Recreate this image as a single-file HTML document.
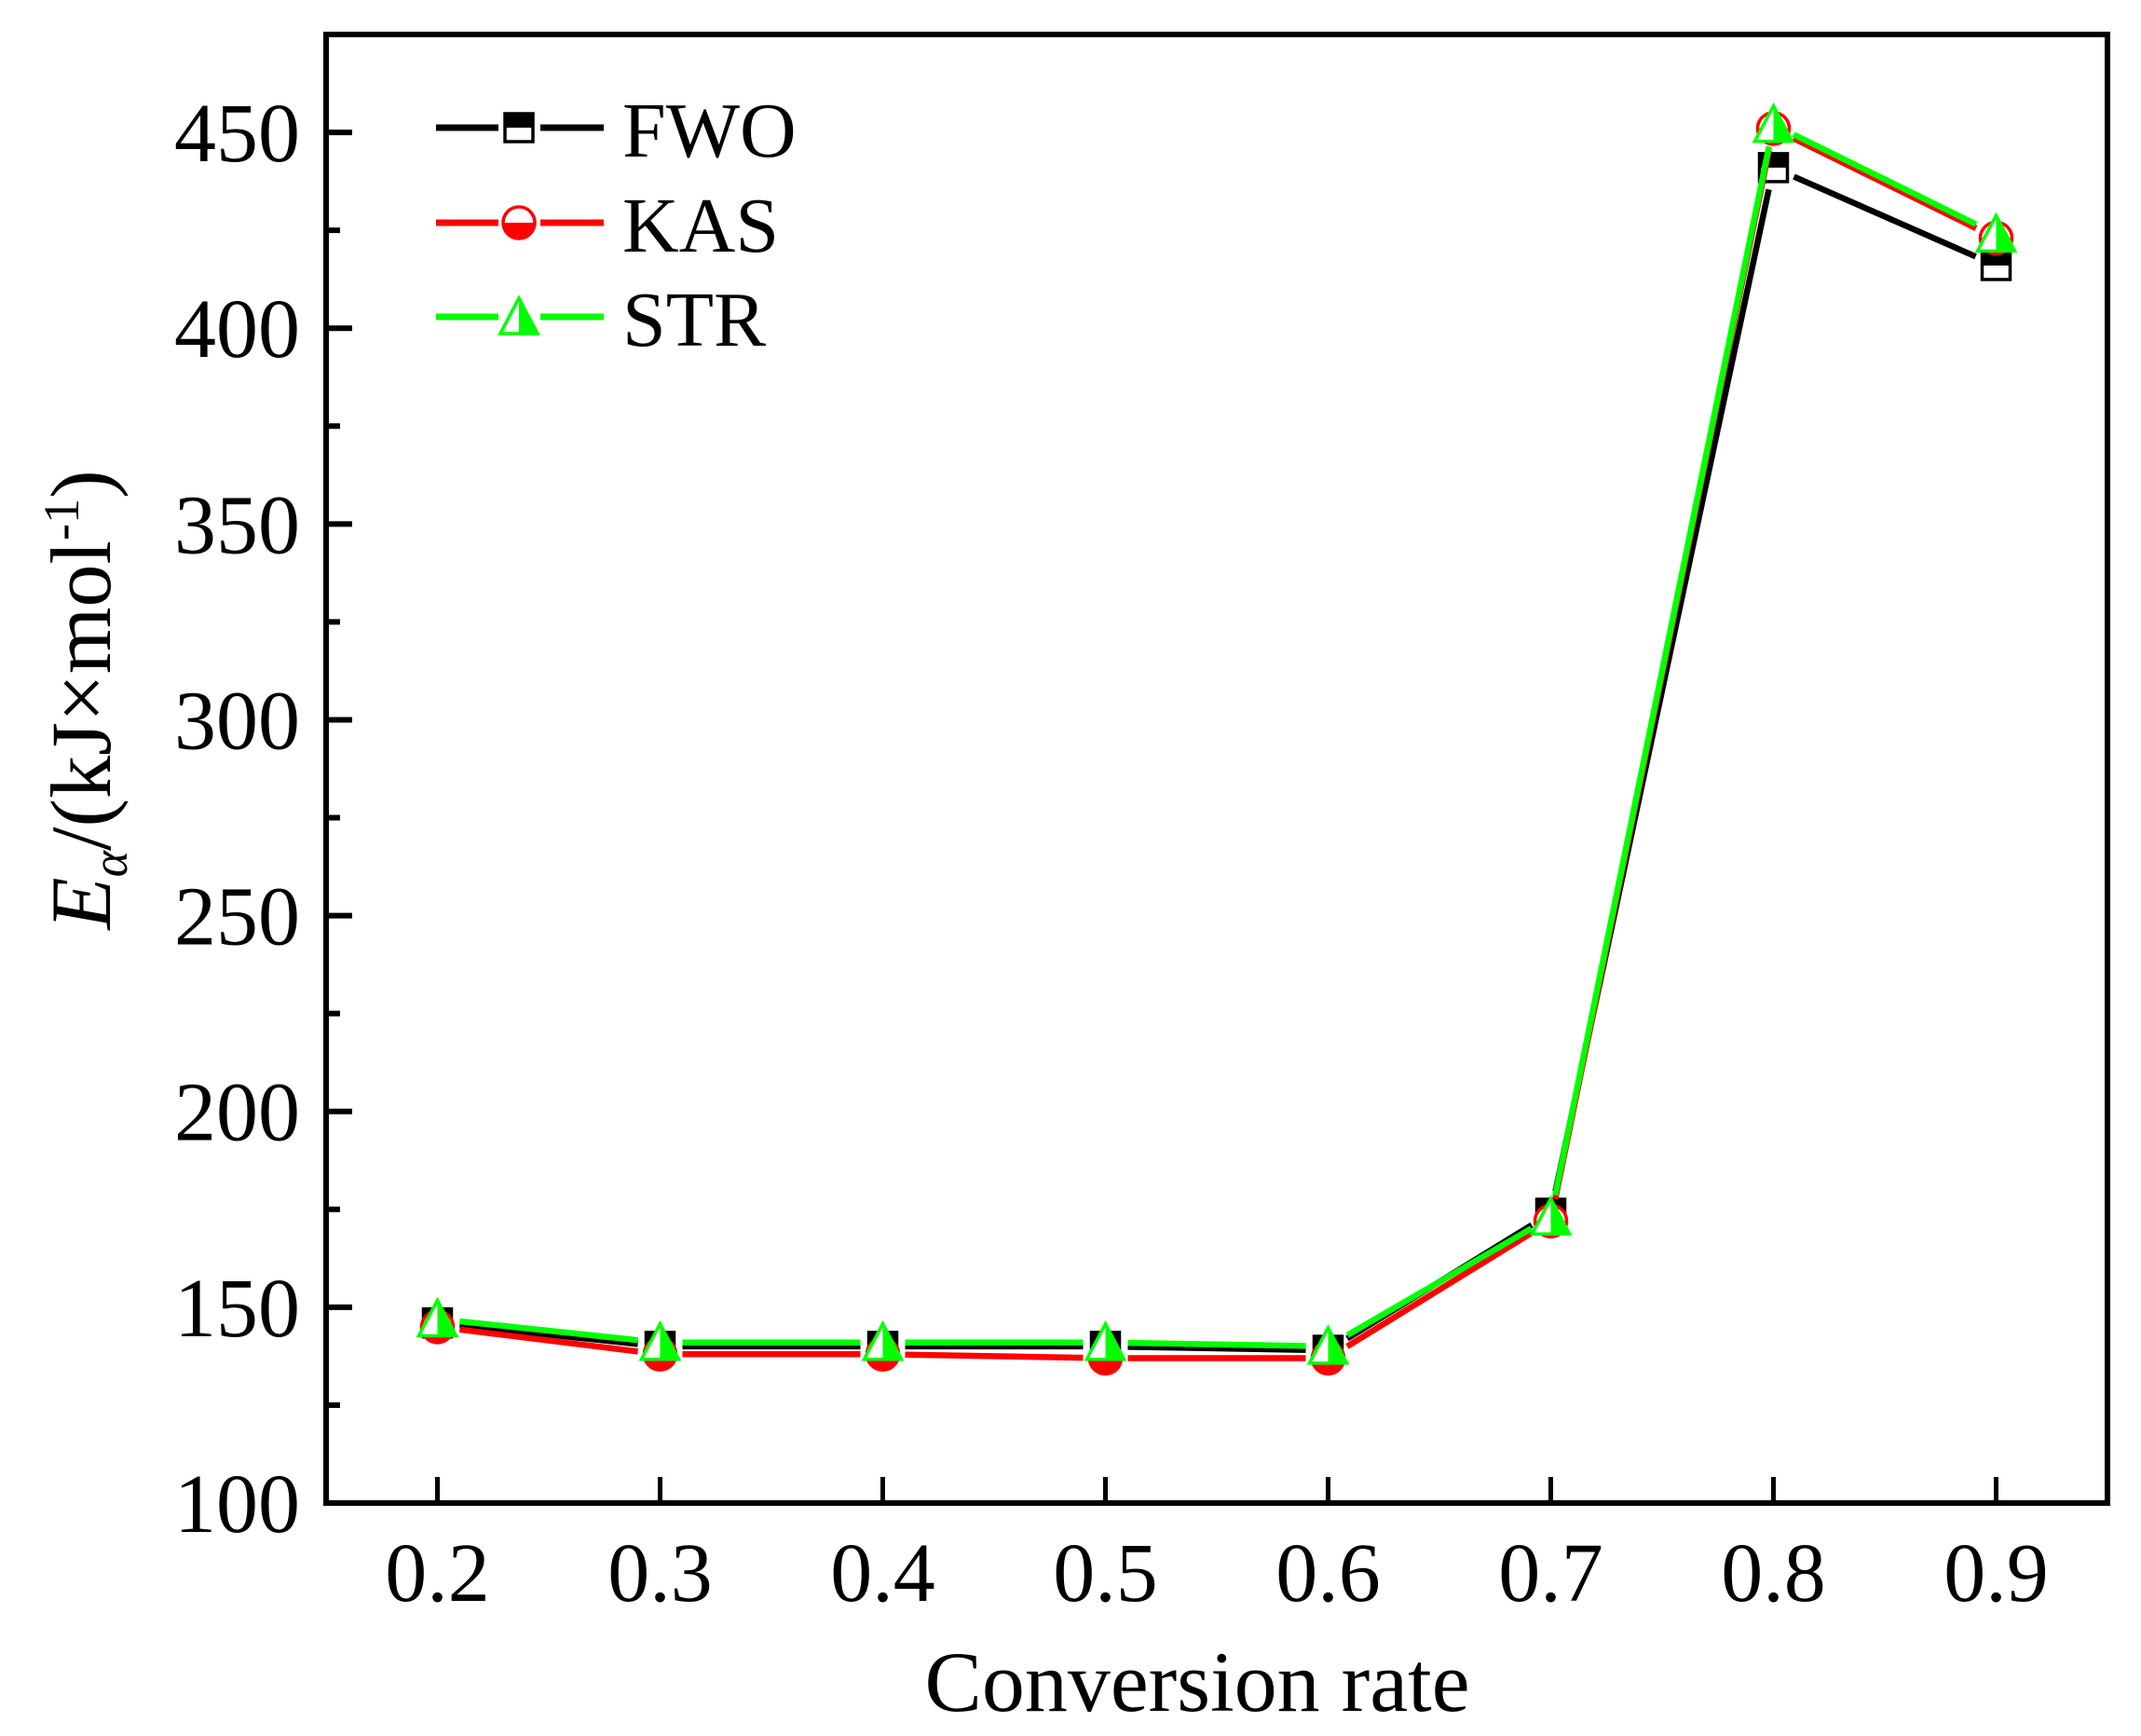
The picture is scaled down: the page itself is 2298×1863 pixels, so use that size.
<!DOCTYPE html>
<html><head><meta charset="utf-8"><style>
html,body{margin:0;padding:0;background:#fff;}
svg{display:block;}
text{font-family:"Liberation Serif","DejaVu Serif",serif;fill:#000;}
</style></head><body>
<svg id="chart" width="2298" height="1863" viewBox="0 0 2298 1863" xmlns="http://www.w3.org/2000/svg">
<rect x="0" y="0" width="2298" height="1863" fill="#fff"/>
<g id="plot"></g>
</svg>
<script>
const categories=[0.2,0.3,0.4,0.5,0.6,0.7,0.8,0.9];
const fwoValues=[146,140,140,140,139,174,441,416];
const kasValues=[145,138,138,137,137,172,451,423];
const strValues=[147,141,141,141,140,173,452,424];
const yTickLabels=[100,150,200,250,300,350,400,450];
const xTickLabels=["0.2","0.3","0.4","0.5","0.6","0.7","0.8","0.9"];
const seriesNames=["FWO","KAS","STR"];

const L=350,R=2262,T=37,B=1613;
const xMin=0.15,xMax=0.95,yMin=100,yMax=475;
function xs(v){return L+(v-xMin)/(xMax-xMin)*(R-L);}
function ys(v){return B-(v-yMin)/(yMax-yMin)*(B-T);}
const NS="http://www.w3.org/2000/svg";
const g=document.getElementById('plot');
function mk(tag,attrs,parent){const e=document.createElementNS(NS,tag);for(const k in attrs)e.setAttribute(k,attrs[k]);(parent||g).appendChild(e);return e;}

const frame=mk('rect',{x:L,y:T,width:R-L,height:B-T,fill:'none',stroke:'#000','stroke-width':6});



yTickLabels.forEach(v=>{
  const y=ys(v);
  const t=mk('line',{x1:L,x2:L+28,y1:y,y2:y,stroke:'#000','stroke-width':6});
  
  
  const lb=mk('text',{x:L-28,y:y+31,'text-anchor':'end','font-size':90});
  lb.textContent=v;
  
  
  if(v+25<=yMax){
    const ym=ys(v+25);
    const m=mk('line',{x1:L,x2:L+15,y1:ym,y2:ym,stroke:'#000','stroke-width':6});
    
    
  }
});
categories.forEach((c,i)=>{
  const x=xs(c);
  const t=mk('line',{x1:x,x2:x,y1:B,y2:B-28,stroke:'#000','stroke-width':5});
  
  
  const lb=mk('text',{x:x,y:1718,'text-anchor':'middle','font-size':90});
  lb.textContent=xTickLabels[i];
  
  
});
const xt=mk('text',{x:1285,y:1836,'text-anchor':'middle','font-size':92});
xt.textContent='Conversion rate';


const yt=mk('text',{x:0,y:0,'text-anchor':'middle','font-size':92,transform:'translate(118,751) rotate(-90)'});
yt.innerHTML='<tspan font-style="italic">E</tspan><tspan font-style="italic" font-size="54" dy="18">α</tspan><tspan dy="-18">/(kJ×mol</tspan><tspan font-size="54" dy="-34">-1</tspan><tspan dy="34">)</tspan>';



const colors=['#000','#ff0000','#00ff00'];
function marker(type,x,y,parent){
  const grp=mk('g',{},parent);
  if(type===0){
    mk('rect',{x:x-15,y:y-15,width:30,height:30,fill:'#fff',stroke:'#000','stroke-width':3.5},grp);
    mk('rect',{x:x-15,y:y-15,width:30,height:15,fill:'#000'},grp);
  }else if(type===1){
    mk('circle',{cx:x,cy:y,r:17,fill:'#fff',stroke:'#ff0000','stroke-width':3.5},grp);
    mk('path',{d:`M${x-17},${y} A17,17 0 0 0 ${x+17},${y} Z`,fill:'#ff0000'},grp);
  }else{
    mk('path',{d:`M${x},${y-20} L${x-20},${y+18} L${x+20},${y+18} Z`,fill:'#fff',stroke:'#00ff00','stroke-width':3.5,'stroke-linejoin':'miter'},grp);
    mk('path',{d:`M${x},${y-20} L${x},${y+18} L${x+20},${y+18} Z`,fill:'#00ff00'},grp);
  }
  return grp;
}
[fwoValues,kasValues,strValues].forEach((vals,s)=>{
  const sg=mk('g',{});
  
  
  for(let i=0;i<vals.length-1;i++){
    const x1=xs(categories[i]),y1=ys(vals[i]),x2=xs(categories[i+1]),y2=ys(vals[i+1]);
    const dx=x2-x1,dy=y2-y1,len=Math.hypot(dx,dy),g0=24;
    const ln=mk('line',{x1:x1+dx/len*g0,y1:y1+dy/len*g0,x2:x2-dx/len*g0,y2:y2-dy/len*g0,stroke:colors[s],'stroke-width':6.5},sg);
    
    
  }
  vals.forEach((v,i)=>{
    const m=marker(s,xs(categories[i]),ys(v),sg);
    
    
  });
});
const legY=[137,239,340];
seriesNames.forEach((n,s)=>{
  const lg=mk('g',{});
  
  
  mk('line',{x1:468,x2:535,y1:legY[s],y2:legY[s],stroke:colors[s],'stroke-width':7},lg);
  mk('line',{x1:580,x2:648,y1:legY[s],y2:legY[s],stroke:colors[s],'stroke-width':7},lg);
  marker(s,557,legY[s],lg);
  const t=mk('text',{x:668,y:legY[s]+31,'font-size':84},lg);
  t.textContent=n;
});
</script>
</body></html>
